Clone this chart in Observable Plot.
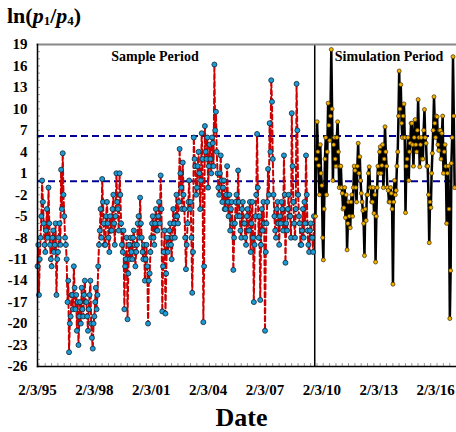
<!DOCTYPE html>
<html><head><meta charset="utf-8">
<script src="https://cdn.jsdelivr.net/npm/d3@7"></script>
<script src="https://cdn.jsdelivr.net/npm/@observablehq/plot@0.6"></script>
<style>
body{margin:0;background:#fff;}
#wrap{width:456px;height:432px;position:relative;overflow:hidden;}
#ylab{position:absolute;left:7px;top:3px;font-family:"Liberation Serif","Times New Roman",serif;font-weight:bold;font-size:22px;line-height:26px;white-space:nowrap;}
#ylab sub{font-size:13px;position:relative;top:2px;vertical-align:baseline;}
#chart{position:absolute;left:0;top:36px;}
</style></head><body>
<div id="wrap">
<div id="ylab">ln(<i>p</i><sub>1</sub>/<i>p</i><sub>4</sub>)</div>
<div id="chart"></div>
</div>
<script>
// ---- data: ln(p1/p4), two readings per month (3rd and 18th) ----
const sampleStart = "1995-02-03";   // first observation of the sample period
const sampleValues = [
  // 1995 Feb-Dec
  -12,-9, -16,-11, -8,-5, 0,-3, -6,-9, -10,-7, -4,-8, -1,-6, -9,-11, -12,-8, -7,-10,
  // 1996
  -9,-6, -16,-11, -10,-8, -6,-9, 1.5,-4, 3.8,-2, -5,-8, -9,-11, -17,-14, -24,-20, -19,-16, -16,-18,
  // 1997
  -12,-15, -18,-16, -21,-17, -23,-19, -17,-20, -15,-18, -19,-16, -14,-17, -17,-19, -21,-18, -16,-14, -20,-22,
  // 1998
  -23.5,-20, -19,-17, -15,-18, -16,-12, -9,-7, -4,-8, 0.2,-3, -6,-9, -9,-5, -3,-6, -8,-10, -5,-7,
  // 1999
  -7,-4, -2,-6, -9,-5, 1,-3, -4,-7, 1,-2, -6,-9, -10,-7, -18,-12, -11,-8, -19.4,-13, -9,-11,
  // 2000
  -8,-10, -11,-8, -7,-9, -12,-10, -9,-6, -5,-8, -2.4,-6, -8,-10, -11,-9, -14,-11, -9,-12, -20,-14,
  // 2001
  -13,-10, -8,-6, -5,-8, -9,-6, -4,-7, -7,-5, -3,-6, 0.7,-4, -18.3,-12, -10,-7, -18.6,-13, -8,-10,
  // 2002
  -9,-7, -6,-9, -11,-8, -4,-6, -8,-5, -2,-5, -6,-3, 4.4,1, -1,-4, 2.5,-2, -4,-8, -12.4,-9,
  // 2003
  -6,-3, 0,-4, -3,-8, -15.7,-10, 6,3, 2,-2, -1,2, 4,1, -4,0, 6.6,3, -19.8,-12, 7.6,4,
  // 2004
  3,6, -1,2, 5,3, 1,6, 5.2,2, 16.2,7, 9.6,4, 1,-1, -2,1, 3.5,0, -3,-1, 0,-4,
  // 2005
  -4,-2, 2,-3, -5,-2, -7,-4, -3,-6, -12.5,-8, -6,-3, -2,-5, 1.4,-3, -5,-7, -8,-4, -3,-6,
  // 2006
  -6,-8, -9,-5, -4,-7, -7,-3, -10,-6, -3,-8, -17,-9, -5,-2, 6.5,-1, -8,-5, -16.7,-9, -4,-7,
  // 2007
  -3,-6, -21,-10, -6,-3, 1.6,-2, 8,4, 14,11, 3,-2, -5,-7, -8,-4, -3,-6, -9,-5, -6,-3,
  // 2008
  -4,-7, 3.5,-2, -11.5,-6, -7,-4, -2,-5, -5,-8, 9.4,2, -3,-6, -8,-4, 13.5,7, -2,-5, -6,-9,
  // 2009 Jan-Sep
  -9,-7, -4,-8, -3,-6, 3.5,-2, -7,-9, -10,-7, -6,-8, -8,-10, -5
];
const simStart = "2009-10-03";      // first reading of the simulation period
const simValues = [
  // 2009 Oct-Dec
  -5,3, 8.2,4, 2.1,-2,
  // 2010
  5,1, -0.7,-8, -11.1,-4, 3,6, -2,4, 10.8,7.7, 5.6,9, 18.3,10, 0,5, 6,3, 2,6, 8.2,4,
  // 2011
  -1,2, 2,-1, -1.8,-4, -3.8,-1, -5.2,-2, -9.7,-6, -3,-5, -6.6,-3, -2,-5, -1,2, 1.4,-1, -3,2,
  // 2012
  5.2,1, 3.3,0, -1.8,-3, -4.2,-6, -10.5,-4, -5.6,-2, -2,1, 1.9,-1, -1,-3, -3,-1, -4.6,-2, -11.4,-5,
  // 2013
  -1,2, 1,4, 4.7,1, 2.1,5, -1,3, 7.5,4, 2,-1, -1.4,-3, -3,-1, -1.8,-4, -14.5,-3, 0,-2,
  // 2014
  -1.4,2, 4,9, 15.3,10, 13.4,8, 6,9, 10.7,6, -4.5,2, 3,6, 0,4, 5.2,8, 8,5, 2,6,
  // 2015
  8.5,5, 4,7, 11.3,6, 1.9,5, 6,3, 3,7, 9.9,6, 5.2,2, 2,-2, -8.7,-3, -3.8,1, 3.8,7,
  // 2016
  11.7,8, 6,9, 8.9,5, 4.2,7, 7,3, 6.6,9, 1,4, 5,2, -6,1, 2,-4, -19.3,-12.6, 2.4,6,
  // 2017 Jan-Feb
  17.3,9, -1
];
const referenceLevels = [6.2, -0.1];
const splitDate = "2009-09-18";
const xDomain = ["1995-02-03", "2017-02-20"];
const yDomain = [-26, 19];
const yTicks = [19, 16, 13, 10, 7, 4, 1, -2, -5, -8, -11, -14, -17, -20, -23, -26];
const xTickDates = ["1995-02-03", "1998-02-03", "2001-02-03", "2004-02-03", "2007-02-03", "2010-02-03", "2013-02-03", "2016-02-03"];
const xTickLabels = ["2/3/95", "2/3/98", "2/3/01", "2/3/04", "2/3/07", "2/3/10", "2/3/13", "2/3/16"];
const annotationLabels = ["Sample Period", "Simulation Period"];
const annotationDates = ["2001-04-15", "2013-08-20"];
const annotationValues = [17.3, 17.3];

// ---- build tables (reading i: month i/2, on the 3rd or the 18th) ----
const toRows = (start, vals) => vals.map((v, i) => ({
  date: d3.utcDay.offset(d3.utcMonth.offset(new Date(start), Math.floor(i / 2)), (i % 2) * 15),
  value: v
}));
const sample = toRows(sampleStart, sampleValues);
const sim = toRows(simStart, simValues);
const annotations = annotationLabels.map((t, i) => ({label: t, date: new Date(annotationDates[i]), value: annotationValues[i]}));
const tickDates = xTickDates.map(d => new Date(d));
const labelFor = d => { const i = tickDates.findIndex(t => +t === +d); return i >= 0 ? xTickLabels[i] : ""; };
const yMinor = d3.range(yDomain[0], yDomain[1] + 1, 1);
const xMinor = d3.utcMonth.range(new Date(xDomain[0]), new Date(xDomain[1]), 1).filter((d, i) => i % 4 === 0);

const serif = "'Liberation Serif', 'Times New Roman', serif";
const chart = Plot.plot({
  width: 456, height: 396,
  marginTop: 8, marginBottom: 66, marginLeft: 37, marginRight: 1,
  style: {fontFamily: serif, background: "white", overflow: "visible"},
  x: {type: "utc", domain: xDomain.map(d => new Date(d))},
  y: {domain: yDomain},
  marks: [
    Plot.axisY({ticks: yMinor, tickSize: 3, dx: 3, text: null, label: null, stroke: "#999", strokeWidth: 1}),
    Plot.axisX({ticks: xMinor, tickSize: 3, dy: -3, text: null, label: null, stroke: "#999", strokeWidth: 1}),
    Plot.ruleY(referenceLevels, {stroke: "#000099", strokeWidth: 2, strokeDasharray: "7,4"}),
    Plot.ruleX([new Date(splitDate)], {stroke: "black", strokeWidth: 1.5}),
    Plot.line(sample, {x: "date", y: "value", stroke: "#CC0000", strokeWidth: 2, strokeDasharray: "5,3"}),
    Plot.dot(sample, {x: "date", y: "value", r: 2.5, fill: "#1E9AD6", stroke: "#10242f", strokeWidth: 0.8}),
    Plot.line(sim, {x: "date", y: "value", stroke: "black", strokeWidth: 2.5}),
    Plot.dot(sim, {x: "date", y: "value", r: 2, fill: "#F5B000", stroke: "#3a2e00", strokeWidth: 0.7}),
    Plot.axisY({ticks: yTicks, tickSize: 0, tickPadding: 10, fontSize: 15, fontWeight: "bold", tickFormat: d => String(d), label: null, fill: "black"}),
    Plot.axisX({ticks: tickDates, tickSize: 0, tickPadding: 18, fontSize: 15, fontWeight: "bold", tickFormat: labelFor, label: null, fill: "black"}),
    Plot.frame({anchor: "top", stroke: "#888", strokeWidth: 2}),
    Plot.frame({anchor: "left", stroke: "black", strokeWidth: 1.5}),
    Plot.frame({anchor: "bottom", stroke: "black", strokeWidth: 1.5}),
    Plot.text(annotations, {x: "date", y: "value", text: "label", fontSize: 14, fontWeight: "bold", fill: "black"}),
    Plot.text(["Date"], {frameAnchor: "bottom", dy: 51, dx: -5, lineAnchor: "middle", fontSize: 26, fontWeight: "bold", fill: "black"})
  ]
});
document.getElementById("chart").appendChild(chart);
</script>
</body></html>
